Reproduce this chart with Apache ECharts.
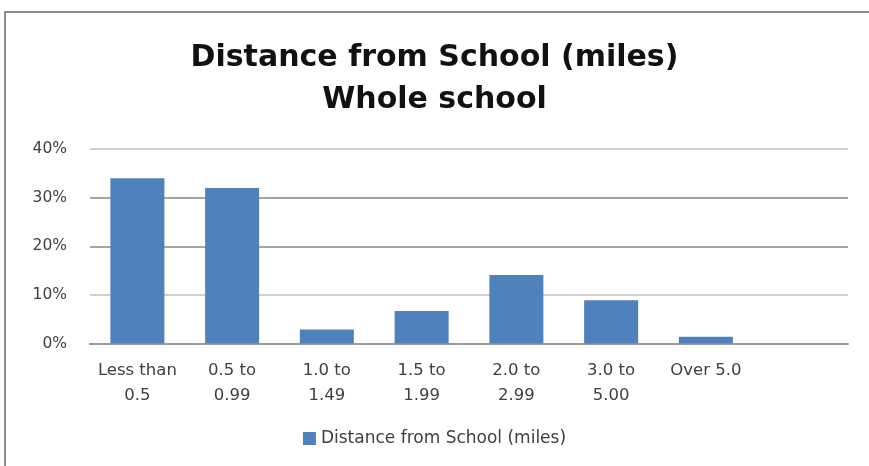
<!DOCTYPE html>
<html><head><meta charset="utf-8">
<script src="https://cdn.jsdelivr.net/npm/echarts@6/dist/echarts.min.js"></script>
<style>html,body{margin:0;padding:0;background:#fff;}#c{width:869px;height:466px;}</style>
</head><body><div id="c"></div>
<script>
var categories = ['Less than\n0.5', '0.5 to\n0.99', '1.0 to\n1.49', '1.5 to\n1.99', '2.0 to\n2.99', '3.0 to\n5.00', 'Over 5.0', ''];
var values = [34, 32, 2.9, 6.7, 14.1, 8.9, 1.4, null];
var seriesName = 'Distance from School (miles)';
var titleText = 'Distance from School (miles)\nWhole school';
var chart = echarts.init(document.getElementById('c'), null, {renderer: 'canvas'});
var font = 'DejaVu Sans';
chart.setOption({
  animation: false,
  backgroundColor: '#fff',
  graphic: [{type: 'rect', shape: {x: 5, y: 12, width: 900, height: 500}, style: {fill: 'none', stroke: '#8c8c8c', lineWidth: 2}, z: -1}],
  title: {text: titleText, left: 'center', top: 32, textStyle: {fontFamily: font, fontWeight: 'bold', fontSize: 30, lineHeight: 42, color: '#111'}},
  grid: {left: 90, right: 21, top: 149, bottom: 122.5},
  legend: {bottom: 14, left: 'center', itemWidth: 13, itemHeight: 13, itemGap: 8, icon: 'rect', textStyle: {fontFamily: font, fontSize: 17, color: '#404040'}, data: [seriesName]},
  xAxis: {type: 'category', data: categories, axisTick: {show: false},
    axisLine: {lineStyle: {color: '#9a9a9a', width: 2}},
    axisLabel: {interval: 0, fontFamily: font, fontSize: 16.5, lineHeight: 25, color: '#404040', margin: 15}},
  yAxis: {type: 'value', min: 0, max: 40, interval: 10,
    axisLabel: {formatter: '{value}%', fontFamily: font, fontSize: 15.5, color: '#404040', margin: 23},
    axisLine: {show: false}, axisTick: {show: false},
    splitLine: {lineStyle: {color: ['#9a9a9a', '#cfcfcf', '#a6a6a6', '#a6a6a6', '#cfcfcf'], width: 2}}},
  series: [{name: seriesName, type: 'bar', data: values, barWidth: '57%', itemStyle: {color: '#4f81bd'}}]
});
</script></body></html>
